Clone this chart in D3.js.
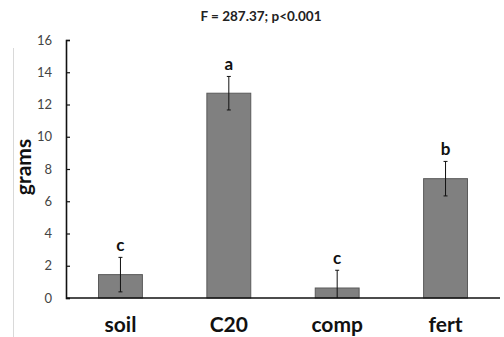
<!DOCTYPE html>
<html lang="en">
<head>
  <meta charset="UTF-8">
  <title>grams by treatment</title>
  <script src="https://cdn.jsdelivr.net/npm/d3@7.8.5/dist/d3.min.js"></script>
  <style>
    body { margin: 0; background: #fff; font-family: 'Lato', 'Open Sans', sans-serif; }
  </style>
</head>
<body>
  <svg id="chart"></svg>
  <script>
    // data
    const groups = ["soil", "C20", "comp", "fert"];
    const means = [1.45, 12.7, 0.62, 7.4];
    const errs = [1.07, 1.04, 1.1, 1.07];
    const letters = ["c", "a", "c", "b"];
    const yTicks = [0, 2, 4, 6, 8, 10, 12, 14, 16];

    const width = 504, height = 337;
    const svg = d3.select("#chart").attr("width", width).attr("height", height);

    const x = d3.scaleBand().domain(groups).range([66, 500]).paddingInner(0.595).paddingOuter(0.3);
    const y = d3.scaleLinear().domain([0, 16]).range([298, 40]);

    // thin frame line on the left
    svg.append("line")
      .attr("x1", 13.5).attr("x2", 13.5).attr("y1", 48).attr("y2", height)
      .attr("stroke", "#d9d9d9").attr("stroke-width", 1);

    svg.append("text")
      .attr("x", 261).attr("y", 21)
      .attr("text-anchor", "middle")
      .attr("font-size", 13.5).attr("font-weight", "bold").attr("fill", "#222")
      .text("F = 287.37; p<0.001");

    const yAxis = svg.append("g")
      .attr("transform", "translate(66,0)")
      .call(d3.axisLeft(y).tickValues(yTicks).tickSizeInner(-4).tickSizeOuter(-4).tickPadding(14));
    yAxis.select(".domain").attr("stroke", "#111").attr("stroke-width", 1.6);
    yAxis.selectAll(".tick line").attr("stroke", "#111").attr("stroke-width", 1.2);
    yAxis.selectAll("text").attr("font-size", 13).attr("fill", "#444").attr("font-family", "Lato, sans-serif");

    svg.append("text")
      .attr("transform", "translate(31,167) rotate(-90)")
      .attr("text-anchor", "middle")
      .attr("font-size", 21).attr("font-weight", "bold").attr("fill", "#111")
      .text("grams");

    svg.append("g")
      .selectAll("rect")
      .data(groups)
      .join("rect")
      .attr("x", d => x(d))
      .attr("width", x.bandwidth())
      .attr("y", (d, i) => y(means[i]))
      .attr("height", (d, i) => y(0) - y(means[i]))
      .attr("fill", "#808080")
      .attr("stroke", "#5a5a5a")
      .attr("stroke-width", 1);

    // error bars
    const eb = svg.append("g").attr("stroke", "#111").attr("stroke-width", 1);
    groups.forEach((g, i) => {
      const cx = x(g) + x.bandwidth() / 2;
      const lo = Math.max(0, means[i] - errs[i]), hi = means[i] + errs[i];
      eb.append("line").attr("x1", cx).attr("x2", cx).attr("y1", y(lo)).attr("y2", y(hi));
      eb.append("line").attr("x1", cx - 2).attr("x2", cx + 2).attr("y1", y(hi)).attr("y2", y(hi));
      if (means[i] - errs[i] > 0)
        eb.append("line").attr("x1", cx - 2).attr("x2", cx + 2).attr("y1", y(lo)).attr("y2", y(lo));
    });

    svg.append("g")
      .selectAll("text")
      .data(groups)
      .join("text")
      .attr("x", d => x(d) + x.bandwidth() / 2)
      .attr("y", (d, i) => y(means[i] + errs[i]) - 6)
      .attr("text-anchor", "middle")
      .attr("font-size", 17).attr("font-weight", "bold").attr("fill", "#111")
      .text((d, i) => letters[i]);

    // x axis line
    svg.append("line")
      .attr("x1", 66).attr("x2", 500).attr("y1", y(0)).attr("y2", y(0))
      .attr("stroke", "#111").attr("stroke-width", 1.6);

    svg.append("g")
      .selectAll("text")
      .data(groups)
      .join("text")
      .attr("x", d => x(d) + x.bandwidth() / 2)
      .attr("y", 332)
      .attr("text-anchor", "middle")
      .attr("font-size", 21).attr("font-weight", "bold").attr("fill", "#111")
      .text(d => d);
  </script>
</body>
</html>
